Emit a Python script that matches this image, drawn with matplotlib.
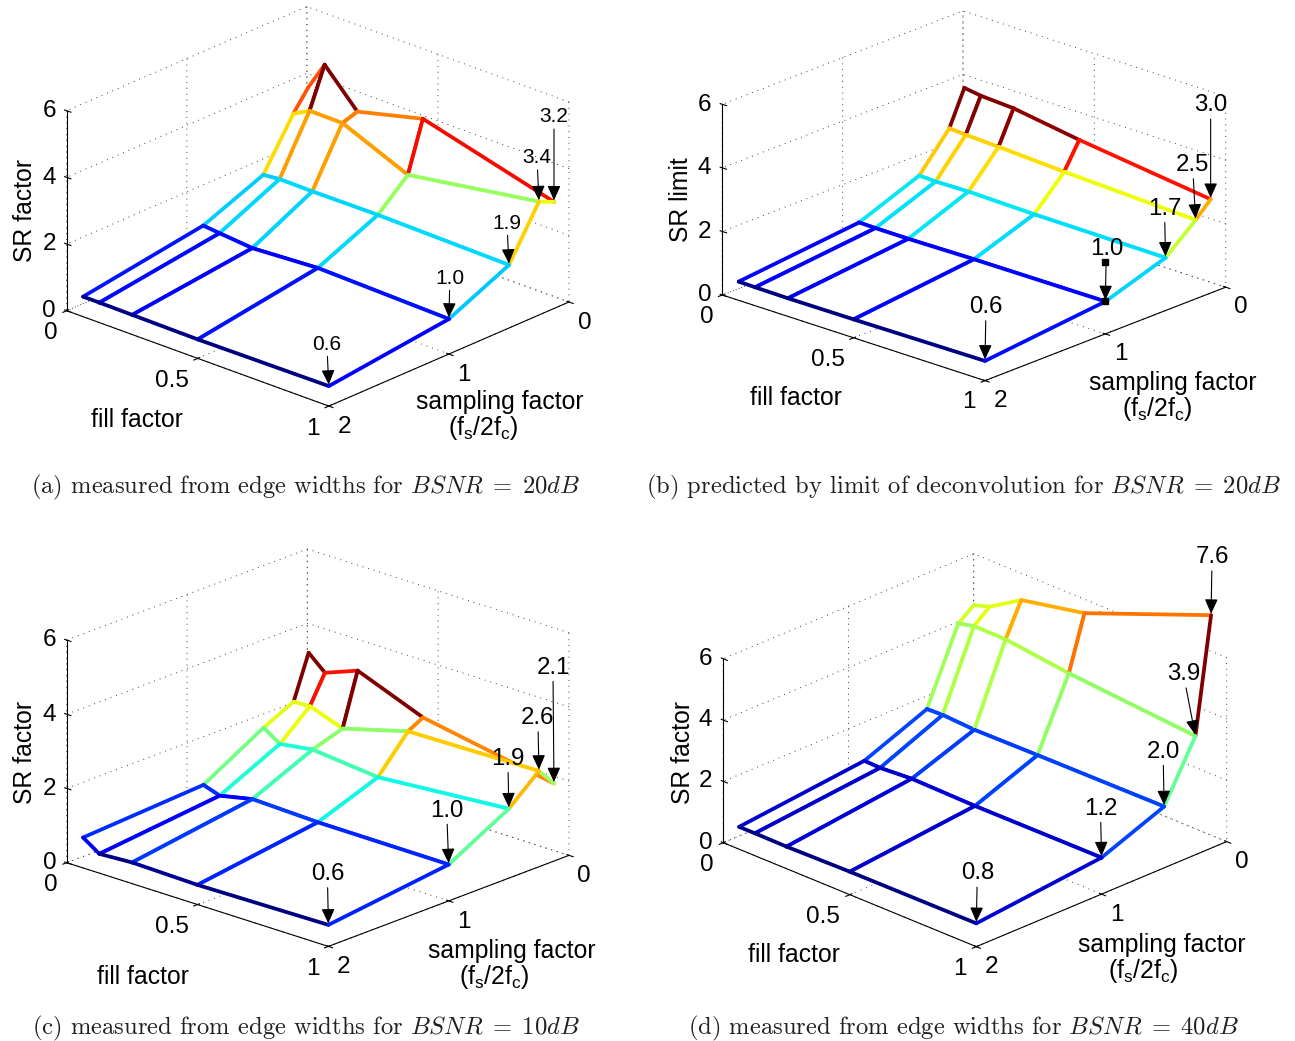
import numpy as np
import matplotlib
matplotlib.use("Agg")
import matplotlib.pyplot as plt
from matplotlib.colors import Normalize
from mpl_toolkits.mplot3d import proj3d
from mpl_toolkits.mplot3d.art3d import Poly3DCollection, Line3DCollection

W, H = 1295, 1041
plt.rcParams["font.family"] = ["Liberation Sans"]
plt.rcParams["grid.linestyle"] = (0, (1, 5))
plt.rcParams["grid.color"] = "#404040"
plt.rcParams["grid.linewidth"] = 0.7
plt.rcParams["mathtext.default"] = "it"

FILL = [0.0625, 0.125, 0.25, 0.5, 1.0]
SAMP = [0.125, 0.25, 0.5, 1.0, 2.0]

# rows: fill factor, columns: sampling factor
Z_A = [[3.95, 3.35, 1.91, 1.17, 0.60],
       [4.81, 3.62, 1.96, 1.12, 0.60],
       [3.76, 3.61, 1.95, 1.03, 0.59],
       [4.26, 2.77, 1.96, 1.15, 0.57],
       [3.20, 3.40, 1.89, 1.05, 0.60]]
Z_B = [[3.93, 2.84, 1.72, 0.98, 0.59],
       [3.85, 2.80, 1.70, 0.97, 0.58],
       [3.79, 2.76, 1.72, 0.97, 0.57],
       [3.47, 2.65, 1.68, 1.00, 0.58],
       [2.95, 2.48, 1.66, 1.02, 0.62]]
Z_C = [[3.50, 2.33, 1.94, 1.01, 0.82],
       [3.10, 2.35, 1.64, 0.86, 0.52],
       [3.44, 2.03, 1.77, 1.05, 0.57],
       [2.74, 2.52, 1.59, 0.99, 0.53],
       [2.09, 2.58, 1.87, 0.98, 0.58]]
Z_D = [[4.75, 4.36, 2.00, 1.17, 0.73],
       [4.91, 4.49, 2.02, 1.15, 0.73],
       [5.55, 4.48, 1.96, 1.22, 0.72],
       [5.97, 4.22, 1.98, 1.18, 0.75],
       [7.60, 3.87, 2.00, 1.19, 0.76]]

CAPTIONS = [r"(a) measured from edge widths for $BSNR\;=\;20dB$",
            r"(b) predicted by limit of deconvolution for $BSNR\;=\;20dB$",
            r"(c) measured from edge widths for $BSNR\;=\;10dB$",
            r"(d) measured from edge widths for $BSNR\;=\;40dB$"]
ZLABELS = ["SR factor", "SR limit", "SR factor", "SR factor"]
SAMPLING_LABEL = "sampling factor"
SAMPLING_UNIT = r"(f$_{\mathregular{s}}$/2f$_{\mathregular{c}}$)"

NOTES_A = [("0.6", 1, 2, -2, 42), ("1.0", 1, 1, 1, 41), ("1.9", 1, .5, -2, 42),
           ("3.4", 1, .25, -2, 44), ("3.2", 1, .125, 0, 85)]
NOTES_B = [("0.6", 1, 2, 1, 54), ("1.0", 1, 1, 1, 52), ("1.7", 1, .5, -1, 49),
           ("2.5", 1, .25, -3, 55), ("3.0", 1, .125, 0, 94)]
NOTES_C = [("0.6", 1, 2, -1, 51), ("1.0", 1, 1, -2, 54), ("1.9", 1, .5, -1, 50),
           ("2.6", 1, .25, -1, 53), ("2.1", 1, .125, -1, 116)]
NOTES_D = [("0.8", 1, 2, 1, 50), ("1.2", 1, 1, -1, 49), ("2.0", 1, .5, -1, 55),
           ("3.9", 1, .25, -12, 62), ("7.6", 1, .125, 1, 58)]

PANELS = [
    dict(z=Z_A, notes=NOTES_A, nfs=15, elev=23.4, azim=-47.5, lz=.613,
         a=(66.7, 310.7), r=(569, 302), cap=(306, 487), zl=(25, 211),
         fl=(137, 420), sl=(500, 402), ul=(483, 428)),
    dict(z=Z_B, notes=NOTES_B, nfs=17.3, elev=20.84, azim=-47.5, lz=.5727,
         a=(722.3, 295), r=(1225.7, 287.3), cap=(963, 487), zl=(681, 200),
         fl=(796, 398), sl=(1173, 383), ul=(1157, 409)),
    dict(z=Z_C, notes=NOTES_C, nfs=17.3, elev=20.36, azim=-47.4, lz=.668,
         a=(66.7, 862.7), r=(569, 856), cap=(306, 1028), zl=(25, 752),
         fl=(143, 977), sl=(512, 951), ul=(494, 977)),
    dict(z=Z_D, notes=NOTES_D, nfs=17.3, elev=24.53, azim=-45.3, lz=.568,
         a=(723.3, 842.7), r=(1226.7, 841.7), cap=(963, 1028), zl=(683, 752),
         fl=(794, 955), sl=(1162, 945), ul=(1143, 971)),
]
# the two small square markers of panel (b): fill, sampling, height
MARK_F = [1, 1]
MARK_S = [1, 1]
MARK_Z = [1.02, 2.27]

fig = plt.figure(figsize=(W / 100, H / 100), dpi=100, facecolor="w")


def to_pixels(ax, x, y, z):
    xp, yp, _ = proj3d.proj_transform(x, y, z, ax.get_proj())
    return ax.transData.transform((xp, yp))


def set_square(ax, left, bottom, size):
    ax.set_position([left / W, bottom / H, size / W, size / H])
    ax.apply_aspect()


def place(ax, a, r):
    """Scale and shift the square axes so the floor corners land where wanted."""
    ta = np.array([a[0], H - a[1]], float)
    tr = np.array([r[0], H - r[1]], float)
    size = 600.0
    set_square(ax, 0, 0, size)
    pa, pr = to_pixels(ax, 0, 2, 0), to_pixels(ax, 1, 0, 0)
    size *= np.linalg.norm(tr - ta) / np.linalg.norm(pr - pa)
    set_square(ax, 0, 0, size)
    pa = to_pixels(ax, 0, 2, 0)
    set_square(ax, *(ta - pa), size)


def draw_mesh(ax, z):
    z = np.array(z)
    norm = Normalize(z.min(), z.min() + 0.97 * (z.max() - z.min()), clip=True)
    cmap = plt.get_cmap("jet")
    order = 10
    for i in range(4):
        for j in range(4):
            p = lambda a, b: (FILL[a], SAMP[b], z[a, b])
            quad = [p(i, j), p(i + 1, j), p(i + 1, j + 1), p(i, j + 1)]
            face = Poly3DCollection([quad], facecolors="w", edgecolors="none", zorder=order)
            ax.add_collection3d(face, autolim=False)
            segs = [[p(i, j), p(i + 1, j)], [p(i, j), p(i, j + 1)],
                    [p(i, j + 1), p(i + 1, j + 1)], [p(i + 1, j), p(i + 1, j + 1)]]
            vals = [z[i, j], z[i, j], z[i, j + 1], z[i + 1, j]]
            lines = Line3DCollection(segs, colors=cmap(norm(vals)), linewidths=2.7,
                                     zorder=order + 1, capstyle="round")
            lines.set_clip_on(False)
            ax.add_collection3d(lines, autolim=False)
            order += 2


for k, P in enumerate(PANELS):
    ax = fig.add_axes([0, 0, .5, .5], projection="3d", computed_zorder=False)
    ax.set_proj_type("ortho")
    ax.view_init(elev=P["elev"], azim=P["azim"])
    ax.set_box_aspect((1, 1, P["lz"]))
    ax.patch.set_alpha(0)
    ax.set_xlim(0, 1, view_margin=0)
    ax.set_ylim(2, 0, view_margin=0)
    ax.set_zlim(0, 6, view_margin=0)
    ax.set_xticks([0, .5, 1], ["0", "0.5", "1"])
    ax.set_yticks([0, 1, 2], ["0", "1", "2"])
    ax.set_zticks([0, 2, 4, 6], ["0", "2", "4", "6"])
    ax.tick_params(labelsize=17.5, pad=-1.5)
    ax.tick_params(axis="x", pad=-0.5)
    ax.tick_params(axis="z", pad=-1)
    ax.zaxis.set_ticks_position("upper")
    for t in ax.xaxis.get_ticklabels():
        t.set_ha("right")
    for t in ax.yaxis.get_ticklabels():
        t.set_ha("left")
    for t in ax.zaxis.get_ticklabels():
        t.set_ha("center")
        t.set_va("center")
    for axis in (ax.xaxis, ax.yaxis, ax.zaxis):
        axis.set_pane_color((1, 1, 1, 0))
        axis.pane.set_edgecolor("none")
        axis.line.set_linewidth(0.8)
        axis.line.set_color("k")
    place(ax, P["a"], P["r"])
    draw_mesh(ax, P["z"])
    zz = np.array(P["z"])
    for text, f, s, dx, dy in P["notes"]:
        xp, yp, _ = proj3d.proj_transform(f, s, zz[FILL.index(f), SAMP.index(s)], ax.get_proj())
        ax.annotate(text, xy=(xp, yp), xytext=(dx, dy), textcoords="offset pixels",
                    ha="center", va="center", fontsize=P["nfs"], annotation_clip=False, zorder=200,
                    arrowprops=dict(arrowstyle="-|>,head_length=0.45,head_width=0.2", color="k",
                                    lw=0.8, shrinkA=0, shrinkB=1, mutation_scale=20))
    if k == 1:
        ax.plot(MARK_F, MARK_S, MARK_Z, ls="none", marker="s", ms=4, color="k", zorder=150, clip_on=False)
    tx = lambda q: (q[0] / W, 1 - q[1] / H)
    fig.text(*tx(P["zl"]), ZLABELS[k], rotation=90, ha="center", va="center", fontsize=17.8)
    fig.text(*tx(P["fl"]), "fill factor", ha="center", va="center", fontsize=17.8)
    fig.text(*tx(P["sl"]), SAMPLING_LABEL, ha="center", va="center", fontsize=17.8)
    fig.text(*tx(P["ul"]), SAMPLING_UNIT, ha="center", va="center", fontsize=17.8)
    fig.text(*tx(P["cap"]), CAPTIONS[k], ha="center", va="center", fontsize=17.7,
             family="cmr10", math_fontfamily="cm", color="#202020")

fig.savefig("out.png", dpi=100)
